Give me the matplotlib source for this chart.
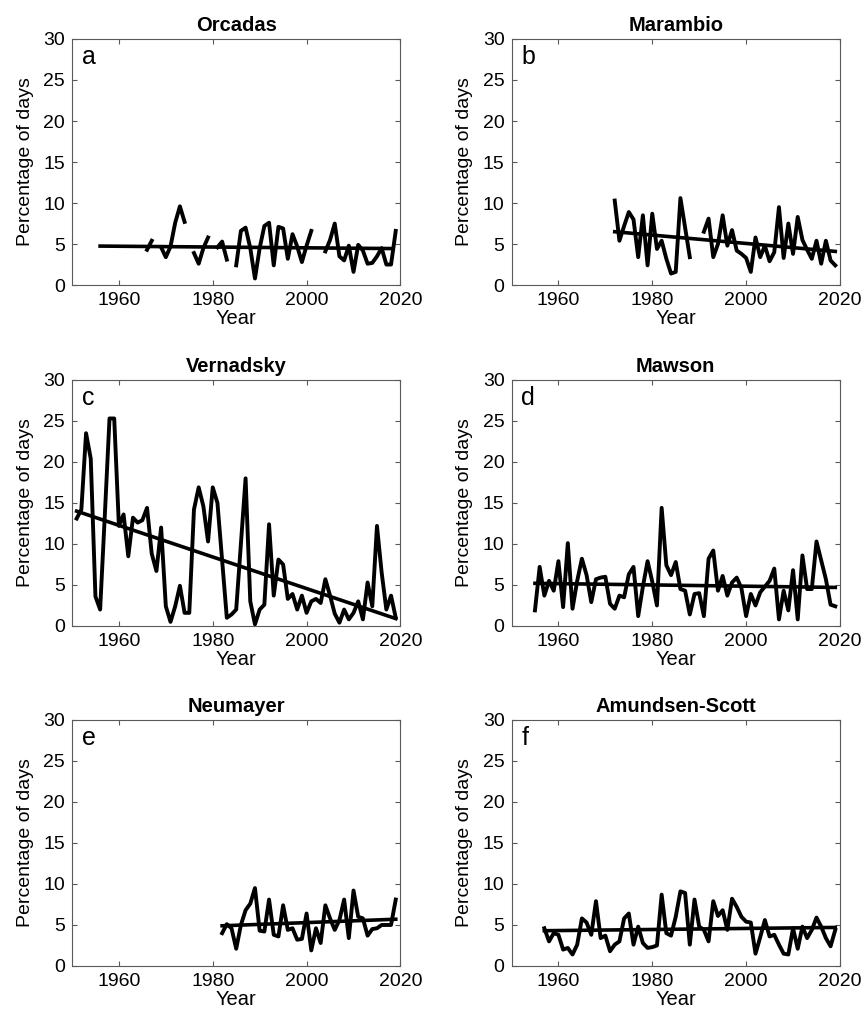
import numpy as np
import matplotlib.pyplot as plt

plt.rcParams['font.family'] = ['Liberation Sans', 'DejaVu Sans']

nan = np.nan

# Percentage of days per year at each station (nan = missing year)
orcadas_years = np.arange(1966, 2020)
orcadas = [4.3, 5.4, nan, 4.6, 3.4, 4.7, 7.6, 9.6, 7.7, nan,
           3.9, 2.6, 4.5, 5.8, nan, 4.6, 5.3, 3.1, nan, 2.4,
           6.6, 7.0, 4.5, 0.8, 4.5, 7.2, 7.6, 2.4, 7.1, 6.9,
           3.2, 6.2, 4.7, 2.8, 4.8, 6.6, nan, nan, 4.1, 5.5,
           7.5, 3.5, 3.0, 4.8, 1.6, 4.9, 4.2, 2.6, 2.7, 3.5,
           4.5, 2.5, 2.5, 6.6]

marambio_years = np.arange(1972, 2020)
marambio = [10.3, 5.4, 7.2, 8.9, 8.0, 3.4, 8.5, 2.4, 8.7, 4.4,
            5.4, 3.2, 1.4, 1.6, 10.6, 7.0, 3.4, nan, nan, 6.5,
            8.1, 3.4, 5.0, 8.5, 4.8, 6.7, 4.2, 3.8, 3.3, 1.6,
            5.8, 3.4, 4.8, 2.9, 4.0, 9.5, 3.3, 7.5, 3.8, 8.3,
            5.5, 4.3, 3.2, 5.4, 2.6, 5.4, 3.0, 2.4]

vernadsky_years = np.arange(1951, 2020)
vernadsky = [13.1, 14.2, 23.5, 20.4, 3.6, 2.0, 13.5, 25.3, 25.3, 12.2,
             13.6, 8.5, 13.2, 12.6, 12.9, 14.4, 8.8, 6.7, 12.0, 2.4,
             0.5, 2.4, 4.9, 1.6, 1.6, 14.2, 16.9, 14.6, 10.3, 16.9,
             15.0, 8.0, 1.0, 1.4, 2.0, 10.0, 18.0, 3.0, 0.2, 2.0,
             2.6, 12.4, 3.7, 8.1, 7.5, 3.3, 3.9, 2.0, 3.7, 1.6,
             3.0, 3.3, 2.8, 5.7, 3.7, 1.5, 0.4, 2.0, 0.8, 1.6,
             3.0, 0.8, 5.3, 2.4, 12.2, 6.5, 2.0, 3.7, 1.0]

mawson_years = np.arange(1955, 2020)
mawson = [1.9, 7.2, 3.7, 5.5, 4.3, 7.9, 2.3, 10.1, 2.1, 5.5,
          8.2, 6.2, 2.9, 5.7, 5.9, 6.0, 2.7, 2.1, 3.7, 3.5,
          6.3, 7.2, 1.2, 4.8, 7.9, 5.4, 2.5, 14.4, 7.4, 6.2,
          7.8, 4.5, 4.3, 1.4, 3.9, 4.0, 1.2, 8.2, 9.2, 4.3,
          6.1, 3.7, 5.3, 5.9, 4.6, 1.2, 3.9, 2.5, 4.1, 4.8,
          5.5, 7.0, 0.8, 4.3, 1.9, 6.8, 0.8, 8.6, 4.5, 4.5,
          10.3, 8.0, 5.7, 2.6, 2.4]

neumayer_years = np.arange(1982, 2020)
neumayer = [4.0, 5.1, 4.6, 2.1, 5.0, 6.8, 7.6, 9.5, 4.3, 4.2,
            8.1, 3.8, 3.6, 7.4, 4.4, 4.6, 3.2, 3.3, 6.4, 1.9,
            4.6, 2.8, 7.4, 5.8, 4.4, 5.6, 8.1, 3.4, 9.2, 6.0,
            5.8, 3.7, 4.5, 4.6, 5.0, 5.0, 5.0, 8.1]

amundsen_years = np.arange(1957, 2020)
amundsen = [4.6, 3.0, 4.0, 3.8, 2.0, 2.2, 1.4, 2.6, 5.8, 5.3,
            3.8, 7.9, 3.4, 3.7, 1.8, 2.6, 3.0, 5.8, 6.4, 2.6,
            4.8, 2.8, 2.2, 2.3, 2.5, 8.7, 4.0, 3.7, 6.0, 9.1,
            8.9, 2.6, 8.1, 4.8, 4.4, 3.0, 7.9, 6.1, 6.8, 4.4,
            8.2, 7.2, 6.0, 5.4, 5.3, 1.5, 3.5, 5.6, 3.6, 3.8,
            2.6, 1.5, 1.4, 4.6, 2.1, 4.8, 3.4, 4.4, 5.9, 4.8,
            3.4, 2.4, 4.4]

# linear trend end points (start year, end year) and values
orcadas_trend_years, orcadas_trend = [1956, 2018], [4.75, 4.45]
marambio_trend_years, marambio_trend = [1972, 2019], [6.5, 4.1]
vernadsky_trend_years, vernadsky_trend = [1951, 2019], [14.0, 0.9]
mawson_trend_years, mawson_trend = [1955, 2019], [5.2, 4.7]
neumayer_trend_years, neumayer_trend = [1982, 2019], [4.9, 5.7]
amundsen_trend_years, amundsen_trend = [1957, 2019], [4.3, 4.7]

stations = ['Orcadas', 'Marambio', 'Vernadsky', 'Mawson', 'Neumayer', 'Amundsen-Scott']
letters = ['a', 'b', 'c', 'd', 'e', 'f']
years = [orcadas_years, marambio_years, vernadsky_years, mawson_years, neumayer_years, amundsen_years]
series = [orcadas, marambio, vernadsky, mawson, neumayer, amundsen]
trend_years = [orcadas_trend_years, marambio_trend_years, vernadsky_trend_years,
               mawson_trend_years, neumayer_trend_years, amundsen_trend_years]
trends = [orcadas_trend, marambio_trend, vernadsky_trend, mawson_trend, neumayer_trend, amundsen_trend]

fig = plt.figure(figsize=(8.63, 10.18), dpi=100)

lefts = [0.0834, 0.5927]
bottoms = [0.7200, 0.3851, 0.0511]
w, h = 0.3806, 0.2417
frame_col = '#5a5a5a'

for i in range(6):
    ax = fig.add_axes([lefts[i % 2], bottoms[i // 2], w, h])

    ax.plot(years[i], series[i], color='black', lw=2.8, solid_joinstyle='round')
    ax.plot(trend_years[i], trends[i], color='black', lw=2.6)

    ax.set_xlim(1950, 2020)
    ax.set_ylim(0, 30)
    ax.set_xticks([1960, 1980, 2000, 2020])
    ax.set_yticks([0, 5, 10, 15, 20, 25, 30])
    ax.tick_params(direction='in', top=True, right=True, length=3.5, width=0.8,
                   color=frame_col, labelsize=14, pad=5)
    for sp in ax.spines.values():
        sp.set_color(frame_col)
        sp.set_linewidth(0.8)

    ax.set_title(stations[i], fontsize=14.5, fontweight='bold', pad=6)
    ax.set_xlabel('Year', fontsize=14.5, labelpad=0)
    ax.set_ylabel('Percentage of days', fontsize=14, labelpad=7)
    ax.text(0.03, 0.975, letters[i], transform=ax.transAxes, fontsize=18,
            ha='left', va='top')

fig.savefig('out.png', dpi=100)
